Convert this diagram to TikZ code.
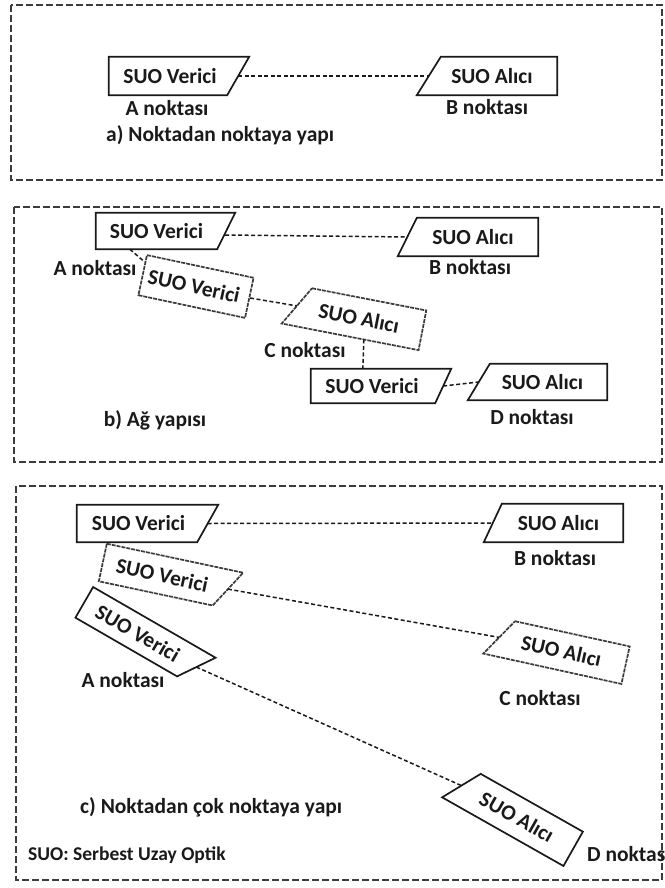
\documentclass[tikz,border=0pt]{standalone}
\usepackage{fontspec}
\setmainfont{Carlito}
\usetikzlibrary{calc}
\definecolor{ink}{HTML}{1A1A1A}
\definecolor{frameink}{HTML}{3C3C3C}

% transmitter outline: vertical left side, right side cut by #3 at the bottom
\newcommand\vericioutline[3][boxline]{%
  \draw[#1] (#2.north west) -- (#2.north east)
    -- ($(#2.south east)!#3!(#2.south west)$) -- (#2.south west) -- cycle;}
% receiver outline: vertical right side, left side cut by #3 at the top
\newcommand\alicioutline[3][boxline]{%
  \draw[#1] ($(#2.north west)!#3!(#2.north east)$) -- (#2.north east)
    -- (#2.south east) -- (#2.south west) -- cycle;}

\begin{document}
\begin{tikzpicture}[x=1pt,y=-1pt,
  lbl/.style={font=\bfseries\fontsize{21.5}{25}\selectfont, text=ink, inner sep=0pt},
  unit/.style={lbl, minimum height=37pt, minimum width=140pt},
  verici/.style={unit, execute at end node={\kern 18pt}},
  alici/.style={unit, execute at begin node={\kern 10pt}},
  boxline/.style={draw=ink, line width=1.7pt, line join=miter},
  tiltline/.style={boxline, draw=ink!85, dash pattern=on 4pt off 1pt},
  link/.style={draw=ink, line width=1.5pt, dash pattern=on 4pt off 2.5pt},
  panel/.style={draw=frameink, line width=1.6pt, dash pattern=on 7pt off 3pt}]

\useasboundingbox (0,0) rectangle (664,888);
\fill[white] (0,0) rectangle (664,888);

% ---------------- a) point to point ----------------
\draw[panel] (11,5) rectangle (662,180);
\node[verici, minimum height=38pt] (va) at (179,76) {SUO Verici};
\node[alici, minimum height=38pt] (aa) at (487,76) {SUO Alıcı};
\vericioutline{va}{22pt}
\alicioutline{aa}{24pt}
\coordinate (va-s) at ($(va.east)!11pt!(va.west)$);
\coordinate (aa-s) at ($(aa.west)!12pt!(aa.east)$);
\draw[link] (va-s) -- (aa-s);
\node[lbl] (la) at (167,108) {A noktası};
\node[lbl] (lb) at (487,107) {B noktası};
\node[lbl, anchor=west] (capa) at (106,135) {a) Noktadan noktaya yapı};

% ---------------- b) network ----------------
\draw[panel] (14,207) rectangle (662,462);
\node[verici, minimum width=139pt, minimum height=36pt] (vb1) at (165.5,231) {SUO Verici};
\node[alici, minimum height=38pt] (ab) at (468,237) {SUO Alıcı};
\node[unit, minimum width=109pt, minimum height=41pt, rotate=-12,
      tiltline, execute at end node={\kern 4pt}] (vb2) at (196,286.5) {SUO Verici};
\node[alici, minimum width=139pt, minimum height=40pt, rotate=-11] (ac) at (354,317) {SUO Alıcı};
\node[verici, minimum height=34pt] (vd) at (381,386) {SUO Verici};
\node[alici, minimum width=139pt, minimum height=36pt,
      execute at begin node={}] (ad) at (537.5,382) {SUO Alıcı};
\vericioutline{vb1}{18pt}
\alicioutline{ab}{19pt}
\alicioutline[tiltline]{ac}{23pt}
\vericioutline{vd}{16pt}
\alicioutline{ad}{22pt}
\coordinate (vb1-s) at ($(vb1.east)!9pt!(vb1.west)+(-1,4)$);
\coordinate (ab-s) at ($(ab.west)!9.5pt!(ab.east)$);
\coordinate (vb1-b) at ($(vb1.south west)!34pt!(vb1.south east)$);
\coordinate (vb2-t) at ($(vb2.north west)!8pt!(vb2.south west)$);
\coordinate (ac-s) at ($(ac.west)!11.5pt!(ac.east)$);
\coordinate (ac-b) at ($(ac.south west)!0.6!(ac.south east)$);
\coordinate (vd-t) at ($(vd.north west)!52pt!(vd.north east)$);
\coordinate (vd-s) at ($(vd.east)!8pt!(vd.west)$);
\coordinate (ad-s) at ($(ad.west)!11pt!(ad.east)$);
\draw[link] (vb1-s) -- (ab-s);
\draw[link] (vb1-b) -- (vb2-t);
\draw[link] (vb2.east) -- (ac-s);
\draw[link] (ac-b) -- (vd-t);
\draw[link] (vd-s) -- (ad-s);
\node[lbl] (lba) at (95,268) {A noktası};
\node[lbl] (lbb) at (470,267) {B noktası};
\node[lbl] (lbc) at (305,350) {C noktası};
\node[lbl] (lbd) at (532,417) {D noktası};
\node[lbl] (capb) at (155,420) {b) Ağ yapısı};

% ---------------- c) point to multipoint ----------------
\draw[panel] (16,486) rectangle (662,880);
\node[verici, minimum width=141pt] (vc1) at (147.5,523.5) {SUO Verici};
\node[alici, minimum width=139pt, minimum height=38pt] (acb) at (553.5,523) {SUO Alıcı};
\node[verici, minimum width=139pt, minimum height=38pt, rotate=-12] (vc2) at (171,577) {SUO Verici};
\node[alici, minimum width=141pt, minimum height=38pt, rotate=-12.4] (acc) at (556.5,650) {SUO Alıcı};
\node[verici, minimum width=141pt, minimum height=35pt, rotate=-30] (vc3) at (145.5,637.7) {SUO Verici};
\node[alici, minimum width=139pt, minimum height=39pt, rotate=-29.5] (acd) at (512.5,814.5) {SUO Alıcı};
\vericioutline{vc1}{21pt}
\alicioutline{acb}{18pt}
\vericioutline[tiltline]{vc2}{23pt}
\alicioutline[tiltline]{acc}{24pt}
\vericioutline{vc3}{24pt}
\alicioutline{acd}{22pt}
\coordinate (vc1-s) at ($(vc1.east)!10.5pt!(vc1.west)$);
\coordinate (acb-s) at ($(acb.west)!9pt!(acb.east)$);
\coordinate (vc2-s) at ($(vc2.east)!11.5pt!(vc2.west)$);
\coordinate (acc-s) at ($(acc.west)!12pt!(acc.east)$);
\coordinate (vc3-s) at ($(vc3.east)!12pt!(vc3.west)$);
\coordinate (acd-s) at ($(acd.west)!11pt!(acd.east)$);
\draw[link] (vc1-s) -- (acb-s);
\draw[link] (vc2-s) -- (acc-s);
\draw[link] (vc3-s) -- (acd-s);
\node[lbl] (lcb) at (555,558) {B noktası};
\node[lbl] (lcc) at (540,698) {C noktası};
\node[lbl] (lca) at (123,680) {A noktası};
\node[lbl, anchor=west] (lcd) at (587,854) {D noktası};
\node[lbl, anchor=west] (capc) at (80,807) {c) Noktadan çok noktaya yapı};
\node[lbl, anchor=west, font=\bfseries\fontsize{19.5}{23}\selectfont] (key) at (28,855) {SUO: Serbest Uzay Optik};
\end{tikzpicture}
\end{document}
